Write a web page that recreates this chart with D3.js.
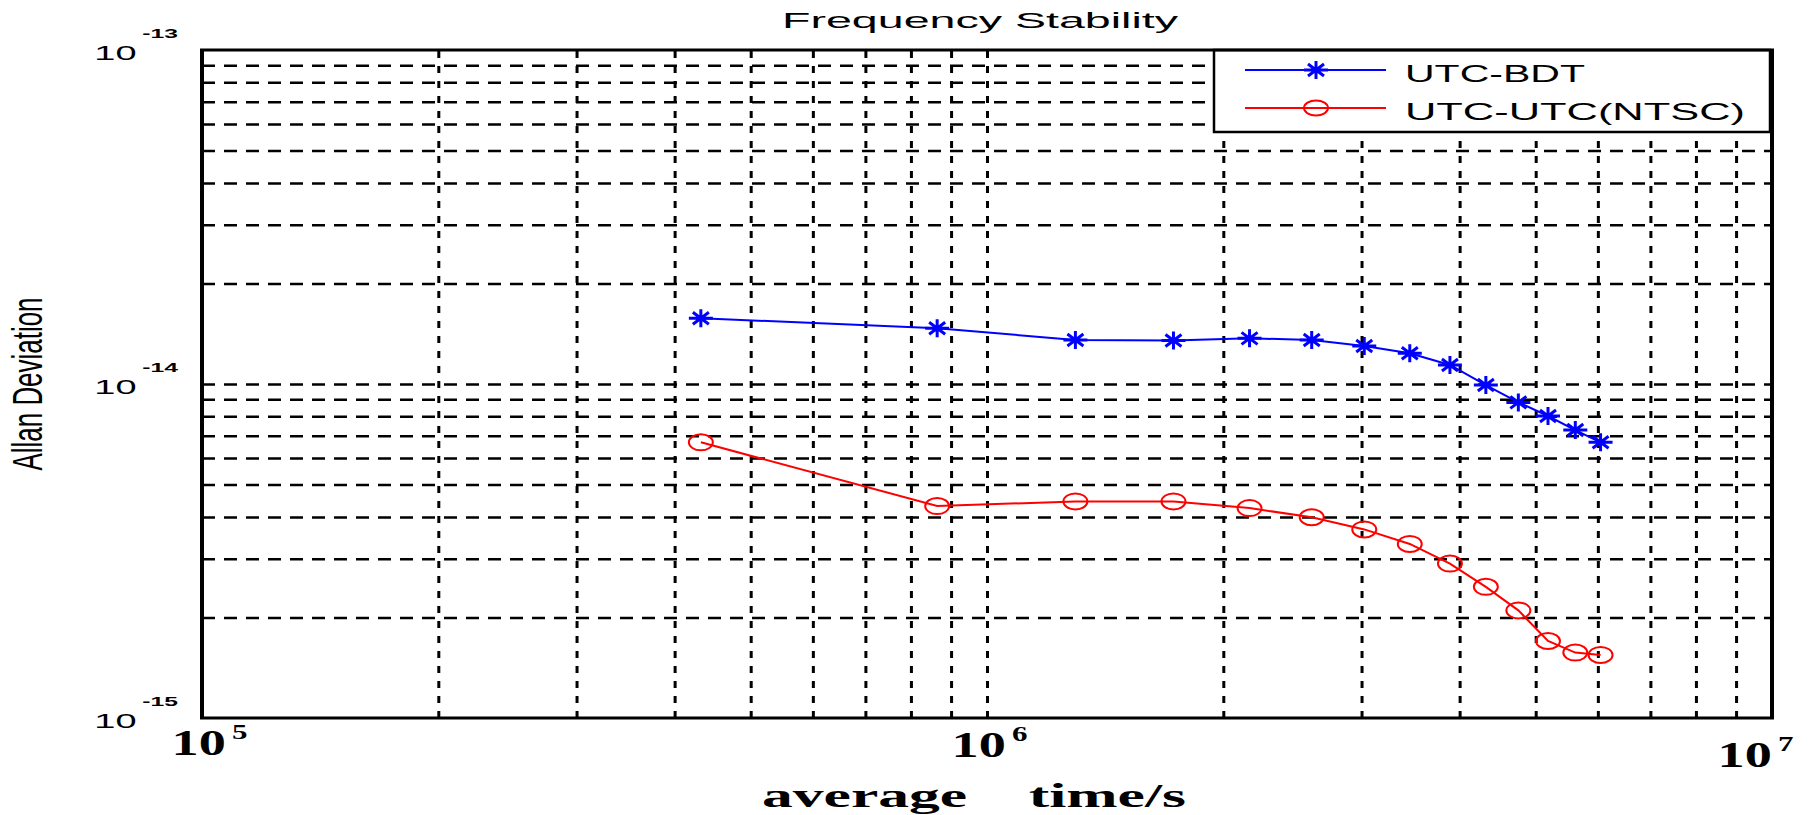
<!DOCTYPE html>
<html>
<head>
<meta charset="utf-8">
<script src="https://cdn.jsdelivr.net/npm/d3@7"></script>
<style>
  body { margin: 0; background: #fff; }
</style>
</head>
<body>
<script>
// averaging times (s) and Allan deviation
const tau = [432000, 864000, 1296000, 1728000, 2160000, 2592000, 3024000, 3456000, 3888000, 4320000, 4752000, 5184000, 5616000, 6048000];
const bdt = [1.574e-14, 1.468e-14, 1.355e-14, 1.350e-14, 1.370e-14, 1.355e-14, 1.30e-14, 1.236e-14, 1.14e-14, 9.93e-15, 8.81e-15, 8.02e-15, 7.28e-15, 6.69e-15];
const ntsc = [6.69e-15, 4.31e-15, 4.45e-15, 4.45e-15, 4.25e-15, 3.99e-15, 3.67e-15, 3.32e-15, 2.90e-15, 2.47e-15, 2.10e-15, 1.70e-15, 1.57e-15, 1.545e-15];
const seriesNames = ["UTC-BDT", "UTC-UTC(NTSC)"];
const xTicks = [1e5, 1e6, 1e7];
const xExp = ["5", "6", "7"];
const yTicks = [1e-15, 1e-14, 1e-13];
const yExp = ["-15", "-14", "-13"];

const W = 1810, H = 815;
const L = 202, R = 1772, T = 50, B = 718;

const svg = d3.select("body").append("svg")
	.attr("width", W)
	.attr("height", H)
	.style("background-color", "white");

const x = d3.scaleLog().domain([1e5, 1e7]).range([L, R]);
const y = d3.scaleLog().domain([1e-15, 1e-13]).range([B, T]);

// vertical grid
const gx = svg.append("g")
	.attr("transform", `translate(0,${B})`)
	.call(d3.axisBottom(x)
		.tickValues(x.ticks().filter(v => v > 1e5 && v < 1e7))
		.tickSize(-(B - T))
		.tickFormat(""));
gx.select(".domain").remove();
gx.selectAll("line")
	.attr("stroke", "black")
	.attr("stroke-width", 3)
	.attr("stroke-dasharray", "7,8");

// horizontal grid
const gy = svg.append("g")
	.attr("transform", `translate(${L},0)`)
	.call(d3.axisLeft(y)
		.tickValues(y.ticks().filter(v => v > 1e-15 && v < 1e-13))
		.tickSize(-(R - L))
		.tickFormat(""));
gy.select(".domain").remove();
gy.selectAll("line")
	.attr("stroke", "black")
	.attr("stroke-width", 2.5)
	.attr("stroke-dasharray", "13,9");

// series
const line = d3.line()
	.x(d => x(d[0]))
	.y(d => y(d[1]));

const bdtPts = tau.map((t, i) => [t, bdt[i]]);
const ntscPts = tau.map((t, i) => [t, ntsc[i]]);

svg.append("path")
	.attr("d", line(bdtPts))
	.attr("fill", "none")
	.attr("stroke", "#0000ff")
	.attr("stroke-width", 2);

svg.append("path")
	.attr("d", line(ntscPts))
	.attr("fill", "none")
	.attr("stroke", "#ff0000")
	.attr("stroke-width", 2);

const star = "M-12,0H12M0,-9V9M-8,-6L8,6M-8,6L8,-6";

svg.append("g").selectAll("path")
	.data(bdtPts)
	.join("path")
	.attr("transform", d => `translate(${x(d[0])},${y(d[1])})`)
	.attr("d", star)
	.attr("fill", "none")
	.attr("stroke", "#0000ff")
	.attr("stroke-width", 3);

svg.append("g").selectAll("ellipse")
	.data(ntscPts)
	.join("ellipse")
	.attr("cx", d => x(d[0]))
	.attr("cy", d => y(d[1]))
	.attr("rx", 12)
	.attr("ry", 8)
	.attr("fill", "none")
	.attr("stroke", "#ff0000")
	.attr("stroke-width", 2);

// legend
const lg = svg.append("g");
lg.append("rect")
	.attr("x", 1214).attr("y", 50)
	.attr("width", 556).attr("height", 82)
	.attr("fill", "white")
	.attr("stroke", "black")
	.attr("stroke-width", 2.5);
const legColors = ["#0000ff", "#ff0000"];
const legY = [70, 108];
seriesNames.forEach((name, i) => {
	lg.append("line")
		.attr("x1", 1245).attr("x2", 1386)
		.attr("y1", legY[i]).attr("y2", legY[i])
		.attr("stroke", legColors[i])
		.attr("stroke-width", 2);
	if (i === 0) {
		lg.append("path")
			.attr("transform", `translate(1316,${legY[i]})`)
			.attr("d", star)
			.attr("fill", "none")
			.attr("stroke", legColors[i])
			.attr("stroke-width", 3);
	} else {
		lg.append("ellipse")
			.attr("cx", 1316).attr("cy", legY[i])
			.attr("rx", 12).attr("ry", 7.5)
			.attr("fill", "none")
			.attr("stroke", legColors[i])
			.attr("stroke-width", 2);
	}
	lg.append("text")
		.attr("x", 1405)
		.attr("y", legY[i] + 12)
		.attr("font-family", "Liberation Sans, Arial, sans-serif")
		.attr("font-size", 24)
		.attr("textLength", i === 0 ? 180 : 340)
		.attr("lengthAdjust", "spacingAndGlyphs")
		.text(name);
});

// axes box
svg.append("line").attr("x1", L - 2).attr("x2", R + 2).attr("y1", T).attr("y2", T)
	.attr("stroke", "black").attr("stroke-width", 3);
svg.append("line").attr("x1", L - 2).attr("x2", R + 2).attr("y1", B).attr("y2", B)
	.attr("stroke", "black").attr("stroke-width", 3);
svg.append("line").attr("x1", L).attr("x2", L).attr("y1", T).attr("y2", B)
	.attr("stroke", "black").attr("stroke-width", 4);
svg.append("line").attr("x1", R).attr("x2", R).attr("y1", T).attr("y2", B)
	.attr("stroke", "black").attr("stroke-width", 4);

// y tick labels
const ya = svg.append("g")
	.attr("transform", `translate(${L},0)`)
	.call(d3.axisLeft(y).tickValues(yTicks).tickSize(0).tickFormat(""));
ya.select(".domain").remove();
ya.selectAll(".tick").each(function(d, i) {
	const t = d3.select(this).append("g")
		.attr("transform", "translate(-24,9) scale(1.9,1)")
		.append("text")
		.attr("text-anchor", "end")
		.attr("font-family", "Liberation Sans, Arial, sans-serif")
		.attr("fill", "black");
	t.append("tspan").attr("font-size", 20).text("10");
	t.append("tspan").attr("font-size", 13).attr("font-weight", "bold")
		.attr("dx", 3).attr("dy", -22).text(yExp[i]);
});

// x tick labels
const xDx = [7, 2, -17], xDy = [37, 39, 49];
const xa = svg.append("g")
	.attr("transform", `translate(0,${B})`)
	.call(d3.axisBottom(x).tickValues(xTicks).tickSize(0).tickFormat(""));
xa.select(".domain").remove();
xa.selectAll(".tick").each(function(d, i) {
	const t = d3.select(this).append("g")
		.attr("transform", `translate(${xDx[i]},${xDy[i]}) scale(1.55,1)`)
		.append("text")
		.attr("text-anchor", "middle")
		.attr("font-family", "Liberation Serif, Times New Roman, serif")
		.attr("font-weight", "bold")
		.attr("fill", "black");
	t.append("tspan").attr("font-size", 35).text("10");
	t.append("tspan").attr("font-size", 20)
		.attr("dx", 4).attr("dy", -16).text(xExp[i]);
});

// labels
svg.append("text")
	.attr("x", 980).attr("y", 28)
	.attr("text-anchor", "middle")
	.attr("font-family", "Liberation Sans, Arial, sans-serif")
	.attr("font-size", 22)
	.attr("textLength", 396)
	.attr("lengthAdjust", "spacingAndGlyphs")
	.text("Frequency Stability");

svg.append("text")
	.attr("x", 762).attr("y", 807)
	.attr("font-family", "Liberation Serif, Times New Roman, serif")
	.attr("font-weight", "bold")
	.attr("font-size", 33)
	.style("white-space", "pre")
	.attr("textLength", 424)
	.attr("lengthAdjust", "spacingAndGlyphs")
	.text("average    time/s");

svg.append("g")
	.attr("transform", `translate(42,${(T + B) / 2}) scale(1.7,1) rotate(-90)`)
	.append("text")
	.attr("text-anchor", "middle")
	.attr("font-family", "Liberation Sans, Arial, sans-serif")
	.attr("font-size", 25)
	.attr("textLength", 173)
	.attr("lengthAdjust", "spacingAndGlyphs")
	.text("Allan Deviation");
</script>
</body>
</html>
